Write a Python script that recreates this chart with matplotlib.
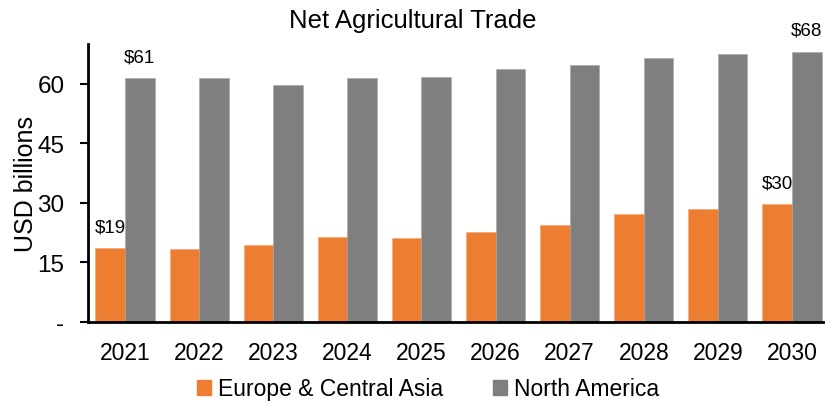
import numpy as np
import matplotlib.pyplot as plt
from matplotlib.patches import Patch

plt.rcParams['font.family'] = ['Liberation Sans', 'DejaVu Sans']

# Net agricultural trade, USD billions
years = ['2021', '2022', '2023', '2024', '2025', '2026', '2027', '2028', '2029', '2030']
europe_central_asia = [18.6, 18.4, 19.5, 21.5, 21.1, 22.7, 24.5, 27.1, 28.5, 29.7]
north_america = [61.4, 61.5, 59.7, 61.4, 61.7, 63.6, 64.8, 66.6, 67.4, 68.1]

orange = '#ED7D31'
gray = '#7F7F7F'

fig = plt.figure(figsize=(8.25, 4.06), dpi=100)
ax = fig.add_axes([88 / 825, 83 / 406, 741 / 825, 278 / 406])

x = np.arange(len(years))
w = 0.4
ax.bar(x - w / 2, europe_central_asia, w, color=orange, edgecolor='#F4A46E', linewidth=0.4)
ax.bar(x + w / 2, north_america, w, color=gray, edgecolor='#A6A6A6', linewidth=0.4)

# value labels on first and last year only
for i in (0, len(years) - 1):
    ax.text(x[i] - w / 2, europe_central_asia[i] + 3.2, f'${europe_central_asia[i]:.0f}',
            ha='center', va='bottom', fontsize=13.5)
    ax.text(x[i] + w / 2, north_america[i] + 3.2, f'${north_america[i]:.0f}',
            ha='center', va='bottom', fontsize=13.5)

ax.set_xlim(-0.5, 9.5)
ax.set_ylim(0, 70)
ax.set_yticks([0, 15, 30, 45, 60])
ax.set_yticklabels(['-', '15', '30', '45', '60'])
ax.set_xticks(x)
ax.set_xticklabels(years)
ax.tick_params(axis='y', length=6, width=1.5, labelsize=17.5, pad=11)
ax.tick_params(axis='x', length=0, labelsize=16.5, pad=14)
ax.set_ylabel('USD billions', fontsize=18)
ax.yaxis.set_label_coords(-0.067, 0.5)

for side in ('top', 'right'):
    ax.spines[side].set_visible(False)
for side in ('left', 'bottom'):
    ax.spines[side].set_linewidth(2)

fig.text(0.5, 1 - 21 / 406, 'Net Agricultural Trade', ha='center', va='center', fontsize=18.5)

handles = [Patch(color=orange, label='Europe & Central Asia'),
           Patch(color=gray, label='North America')]
fig.legend(handles=handles, loc='center', bbox_to_anchor=(428 / 825, 1 - 390 / 406),
           ncol=2, frameon=False, fontsize=16.5, handlelength=0.6, handleheight=0.6,
           handletextpad=0.3, columnspacing=2.2)

fig.savefig('out.png', dpi=100)
